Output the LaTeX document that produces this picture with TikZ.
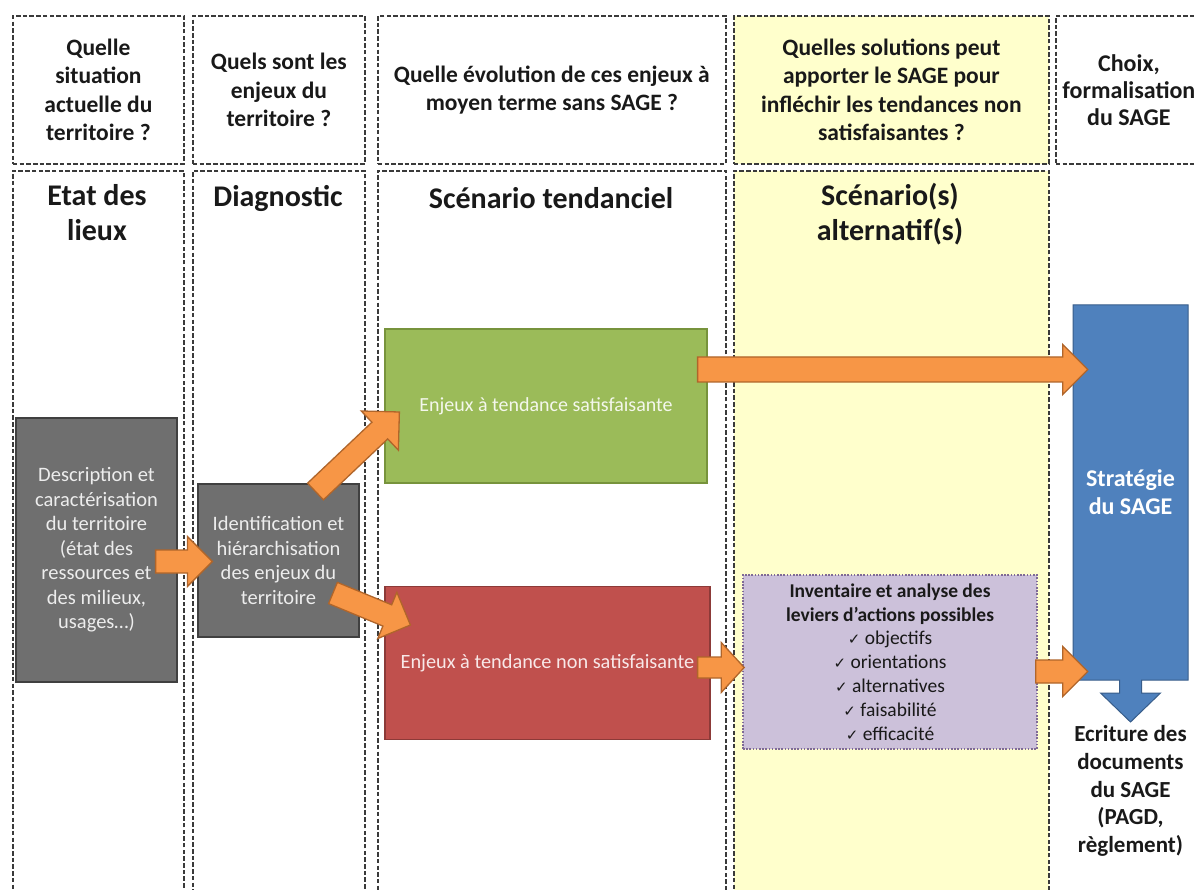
\documentclass[tikz,border=0pt]{standalone}
\usepackage{fontspec}
\setmainfont{Carlito}
\newfontfamily\symfont{DejaVu Sans}
\usetikzlibrary{calc}
\definecolor{dashgray}{HTML}{3A3A3A}
\definecolor{paleyellow}{HTML}{FFFFCC}
\definecolor{boxgray}{HTML}{6F6F6F}
\definecolor{grayborder}{HTML}{404040}
\definecolor{graytext}{HTML}{EDEDED}
\definecolor{greenfill}{HTML}{9BBB59}
\definecolor{greenborder}{HTML}{77933C}
\definecolor{greentext}{HTML}{F4F7EC}
\definecolor{redfill}{HTML}{C0504D}
\definecolor{redborder}{HTML}{8C3A38}
\definecolor{redtext}{HTML}{F8E8E8}
\definecolor{bluefill}{HTML}{4F81BD}
\definecolor{blueborder}{HTML}{385D8A}
\definecolor{purplefill}{HTML}{CCC1DA}
\definecolor{purpleborder}{HTML}{7F6A96}
\definecolor{arrorange}{HTML}{F79646}
\definecolor{arrborder}{HTML}{B0652A}
\tikzset{
  colbox/.style={draw=dashgray, line width=1.8pt, dash pattern=on 4.5pt off 2.2pt, anchor=north west},
  hdrbox/.style={colbox, align=center, inner sep=0pt,
    font=\fontsize{23.5}{28.5}\selectfont\bfseries, text=black!90},
  title/.style={align=center, font=\fontsize{30}{35}\selectfont\bfseries, text=black!90},
  graybox/.style={draw=grayborder, fill=boxgray, line width=1.2pt, text=graytext,
    align=center, font=\fontsize{20.5}{24.5}\selectfont},
  greenbox/.style={draw=greenborder, fill=greenfill, line width=1.2pt, text=greentext,
    align=center, font=\fontsize{20}{24}\selectfont},
  redbox/.style={draw=redborder, fill=redfill, line width=1.2pt, text=redtext,
    align=center, font=\fontsize{20.3}{24}\selectfont},
  purplebox/.style={draw=purpleborder, fill=purplefill, line width=1.6pt,
    dash pattern=on 1.6pt off 1.6pt, align=center, text=black!90,
    font=\fontsize{19.5}{23.8}\selectfont},
  bluetext/.style={align=center, text=white, font=\fontsize{24}{28}\selectfont\bfseries},
  ecrtext/.style={align=center, text=black!90, font=\fontsize{23}{27.8}\selectfont\bfseries},
  barrow/.style={fill=arrorange, draw=arrborder, line width=1.3pt, line join=miter},
}
\newcommand\blockarrow[5]{%
  \coordinate (bah) at ($(#2)!#5!(#1)$);
  \draw[barrow] ($(#1)!#3!90:(#2)$) -- ($(bah)!#3!90:(#2)$) -- ($(bah)!#4!90:(#2)$)
    -- (#2) -- ($(bah)!#4!-90:(#2)$) -- ($(bah)!#3!-90:(#2)$) -- ($(#1)!#3!-90:(#2)$) -- cycle;}
\newcommand\chk{{\symfont\fontsize{15}{15}\selectfont ✓}\ }
\begin{document}
\begin{tikzpicture}[x=1pt,y=-1pt]
\useasboundingbox (0,0) rectangle (1194,890);
\clip (0,0) rectangle (1194,890);
\fill[white] (0,0) rectangle (1194,890);

% header boxes
\node[hdrbox, minimum width=171, minimum height=148] (h1) at (12,15) {Quelle\\situation\\actuelle du\\territoire ?};
\node[hdrbox, minimum width=172, minimum height=148] (h2) at (192,15) {Quels sont les\\enjeux du\\territoire ?};
\node[hdrbox, minimum width=348, minimum height=148] (h3) at (377,15) {Quelle évolution de ces enjeux à\\moyen terme sans SAGE ?};
\node[hdrbox, fill=paleyellow, minimum width=315, minimum height=148] (h4) at (733,15) {Quelles solutions peut\\apporter le SAGE pour\\infléchir les tendances non\\satisfaisantes ?};
\node[hdrbox, minimum width=146, minimum height=148, font=\fontsize{24}{27}\selectfont\bfseries] (h5) at (1055,15) {Choix,\\formalisation\\du SAGE};

% lower columns
\node[colbox, minimum width=171, minimum height=740] (c1) at (12,170) {};
\node[colbox, minimum width=172, minimum height=740] (c2) at (192,170) {};
\node[colbox, minimum width=348, minimum height=740] (c3) at (377,170) {};
\node[colbox, fill=paleyellow, minimum width=315, minimum height=740] (c4) at (733,170) {};

% column titles
\node[title] (t1) at (97,213) {Etat des\\lieux};
\node[title] (t2) at (278,198) {Diagnostic};
\node[title] (t3) at (551,198) {Scénario tendanciel};
\node[title] (t4) at (890,214) {Scénario(s)\\alternatif(s)};

% boxes
\node[graybox, minimum width=161, minimum height=264] (g1) at (96.5,550) {Description et\\caractérisation\\du territoire\\(état des\\ressources et\\des milieux,\\usages…)};
\node[graybox, minimum width=161, minimum height=153] (g2) at (278.5,560.5) {Identification et\\hiérarchisation\\des enjeux du\\territoire};
\node[greenbox, minimum width=322, minimum height=154] (gr) at (546,406) {Enjeux à tendance satisfaisante};
\node[redbox, minimum width=325, minimum height=153] (rd) at (547.5,663) {Enjeux à tendance non satisfaisante};
\node[purplebox, minimum width=294, minimum height=174] (pu) at (890,662)
  {\textbf{Inventaire et analyse des}\\\textbf{leviers d’actions possibles}\\\chk objectifs\\\chk orientations\\\chk alternatives\\\chk faisabilité\\\chk efficacité};

% blue strategy box with down arrow
\draw[fill=bluefill, draw=blueborder, line width=1pt] (1073,305) -- (1188,305) -- (1188,680)
  -- (1141.5,680) -- (1141.5,693) -- (1160.5,693) -- (1130.5,722) -- (1100.5,693)
  -- (1119.5,693) -- (1119.5,680) -- (1073,680) -- cycle;
\node[bluetext, minimum width=115, minimum height=375] (bl) at (1130.5,492.5) {Stratégie\\du SAGE};
\node[ecrtext] (ec) at (1130.5,791) {Ecriture des\\documents\\du SAGE\\(PAGD,\\règlement)};

% orange block arrows
\coordinate (a1s) at ($(g1.east)+(-22,11.5)$);
\coordinate (a1e) at ($(g2.west)+(15,1)$);
\blockarrow{a1s}{a1e}{11.5pt}{25pt}{25pt}
\coordinate (a2s) at (315.5,491.5);
\coordinate (a2e) at ($(gr.west)+(15,6)$);
\blockarrow{a2s}{a2e}{11.5pt}{27pt}{27pt}
\coordinate (a3s) at (333,593);
\coordinate (a3e) at ($(rd.west)+(26,-38)$);
\blockarrow{a3s}{a3e}{11.5pt}{25pt}{25pt}
\coordinate (a4s) at ($(gr.east)+(-10,-36.5)$);
\coordinate (a4e) at ($(bl.west)+(15,-123)$);
\blockarrow{a4s}{a4e}{12.5pt}{25pt}{25pt}
\coordinate (a5s) at ($(rd.east)+(-13,4.5)$);
\coordinate (a5e) at ($(pu.west)+(2,5.5)$);
\blockarrow{a5s}{a5e}{10.5pt}{25pt}{23pt}
\coordinate (a6s) at ($(pu.east)+(-2,9.5)$);
\coordinate (a6e) at ($(bl.west)+(15,179)$);
\blockarrow{a6s}{a6e}{11.5pt}{25pt}{25pt}
\end{tikzpicture}
\end{document}
